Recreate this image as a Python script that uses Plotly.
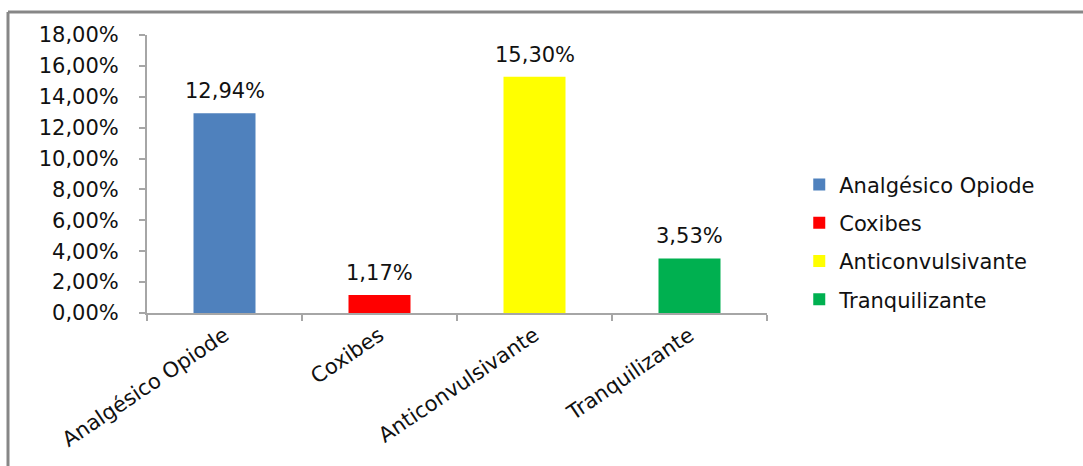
import plotly.graph_objects as go

categories = ["Analgésico Opiode", "Coxibes", "Anticonvulsivante", "Tranquilizante"]
values = [12.94, 1.17, 15.30, 3.53]
value_labels = ["12,94%", "1,17%", "15,30%", "3,53%"]
colors = ["#4F81BD", "#FF0000", "#FFFF00", "#00B050"]
y_ticks = [0, 2, 4, 6, 8, 10, 12, 14, 16, 18]
y_tick_labels = ["0,00%", "2,00%", "4,00%", "6,00%", "8,00%", "10,00%",
                 "12,00%", "14,00%", "16,00%", "18,00%"]

FONT = "DejaVu Sans"
TXT = "#111111"
W, H = 1083, 466
L, R, T, B = 147, 316, 35, 153
pw, ph = W - L - R, H - T - B

fig = go.Figure()
for i, (cat, val, col) in enumerate(zip(categories, values, colors)):
    fig.add_trace(go.Bar(
        x=[cat], y=[val], name=cat, marker=dict(color=col, line=dict(width=0)),
        width=0.4, legendgroup=f"g{i}", hoverinfo="skip",
    ))
    fig.add_annotation(
        x=cat, y=val, text=value_labels[i], showarrow=False,
        yanchor="bottom", yshift=8, font=dict(family=FONT, size=21, color=TXT),
    )

# outer chart frame (left and top edges)
gray = "#878787"
x_left = (8 - L) / pw
x_right = (W - L) / pw
y_top = 1 + (T - 12) / ph
y_bot = -(B) / ph
fig.add_shape(type="line", xref="paper", yref="paper", x0=x_left, x1=x_left,
              y0=y_top, y1=y_bot, line=dict(color=gray, width=3))
fig.add_shape(type="line", xref="paper", yref="paper", x0=x_left, x1=x_right,
              y0=y_top, y1=y_top, line=dict(color=gray, width=3))

fig.update_layout(
    width=W, height=H,
    margin=dict(l=L, r=R, t=T, b=B, autoexpand=False),
    paper_bgcolor="white", plot_bgcolor="white",
    barmode="overlay",
    font=dict(family=FONT, size=21, color=TXT),
    xaxis=dict(
        categoryorder="array", categoryarray=categories,
        showline=True, linecolor="#a6a6a6", linewidth=2,
        ticks="outside", ticklen=6, tickcolor="#a6a6a6", tickwidth=2,
        tickson="boundaries", tickangle=-34,
        tickfont=dict(family=FONT, size=21, color=TXT),
        showgrid=False, zeroline=False,
    ),
    yaxis=dict(
        range=[0, 18], tickvals=y_ticks, ticktext=y_tick_labels,
        showline=True, linecolor="#a6a6a6", linewidth=2,
        ticks="outside", ticklen=6, tickcolor="#a6a6a6", tickwidth=2,
        ticklabelstandoff=16,
        tickfont=dict(family=FONT, size=21, color=TXT),
        showgrid=False, zeroline=False,
    ),
    legend=dict(
        xref="container", yref="container", x=0.738, y=0.48,
        xanchor="left", yanchor="middle",
        font=dict(family=FONT, size=21, color=TXT),
        traceorder="grouped", tracegroupgap=8,
        itemwidth=30, bgcolor="rgba(0,0,0,0)",
    ),
    showlegend=True,
)

fig.write_html("out.html")
